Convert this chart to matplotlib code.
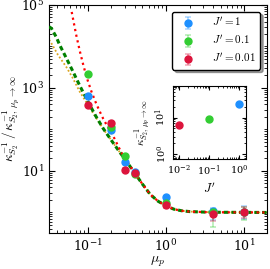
import matplotlib
matplotlib.use("Agg")
import matplotlib.pyplot as plt
import matplotlib.ticker as mticker
import numpy as np

plt.rcParams["mathtext.fontset"] = "cm"
plt.rcParams["font.family"] = "DejaVu Serif"

# simulation points
mu = [0.1, 0.2, 0.3, 0.4, 1.0, 4.0, 10.0]
k_J1 = [650, 98, 16.6, 9.3, 2.3, 1.10, 1.0]
k_J01 = [2200, 115, 23, 8.6, 1.7, 1.0, 1.0]
k_J001 = [390, 144, 10.5, 8.8, 1.5, 0.92, 1.0]
err_J1 = [[30, 6, 1.2, 0.8, 0.25, 0.45, 0.30], [30, 6, 1.2, 0.8, 0.25, 0.18, 0.45]]
err_J01 = [[60, 6, 1.2, 0.8, 0.2, 0.55, 0.35], [60, 6, 1.2, 0.8, 0.2, 0.2, 0.35]]
err_J001 = [[20, 8, 1.0, 0.8, 0.2, 0.28, 0.28], [20, 14, 1.0, 0.8, 0.2, 0.2, 0.32]]

# theory curves
mu_green = [0.032, 0.0343, 0.0398, 0.0437, 0.0501, 0.0631, 0.0794, 0.1, 0.126, 0.158, 0.2,
            0.251, 0.316, 0.398, 0.501, 0.631, 0.794, 1.0, 1.26, 1.58, 2.0, 3.16, 5.0, 20.0]
k_green = [30000, 27500, 16600, 11000, 6600, 2750, 1120, 480, 214, 105, 55,
           30, 16.6, 8.9, 4.8, 2.7, 1.86, 1.45, 1.2, 1.1, 1.05, 1.02, 1.01, 1.0]
mu_orange = [0.032, 0.0335, 0.0416, 0.0533, 0.0648, 0.0716, 0.0794, 0.1, 0.126, 0.158, 0.2,
             0.251, 0.316, 0.398, 0.501, 0.631, 0.794, 1.0, 1.26, 1.58, 2.0, 3.16, 5.0, 20.0]
k_orange = [14500, 13000, 6300, 3200, 1700, 1170, 800, 400, 200, 102, 55,
            30, 16.6, 8.9, 4.8, 2.7, 1.86, 1.45, 1.2, 1.1, 1.05, 1.02, 1.01, 1.0]
mu_red = [0.0624, 0.0708, 0.0794, 0.0891, 0.1, 0.112, 0.126, 0.141, 0.158, 0.178, 0.2,
          0.224, 0.251, 0.282, 0.316, 0.398, 0.501, 0.631, 0.794, 1.0, 1.26, 1.58, 2.0, 3.16, 5.0, 20.0]
k_red = [68000, 20000, 7600, 3200, 1510, 800, 457, 282, 180, 120, 85,
         56, 36, 24, 17.4, 8.9, 4.8, 2.7, 1.86, 1.45, 1.2, 1.1, 1.05, 1.02, 1.01, 1.0]

# inset
Jp = [0.01, 0.1, 1.0]
k_inf = [6.2, 9.3, 23]

c_blue = "#1E90FF"
c_green = "#32CD32"
c_red = "#DC143C"

fig = plt.figure(figsize=(2.70, 2.69), dpi=100)
ax = fig.add_axes([49 / 270, 36 / 269, 218 / 270, 228 / 269])

ax.plot(mu_green, k_green, color="green", lw=2.2, dashes=(1.5, 1.0), zorder=3)
ax.plot(mu_orange, k_orange, color="goldenrod", lw=1.3, dashes=(1.0, 1.2), zorder=2)
ax.plot(mu_red, k_red, color="red", lw=1.6, dashes=(1.0, 1.6), zorder=4)

for k, e, c, lab in [(k_J1, err_J1, c_blue, r"$J'=1$"),
                     (k_J01, err_J01, c_green, r"$J'=0.1$"),
                     (k_J001, err_J001, c_red, r"$J'=0.01$")]:
    eb = ax.errorbar(mu, k, yerr=e, fmt="o", color=c, ms=5, ecolor=c, elinewidth=1.2,
                     capsize=2.5, capthick=1.2, label=lab, zorder=5)
    for art in eb[1] + eb[2]:
        art.set_alpha(0.35)

ax.set_xscale("log")
ax.set_yscale("log")
ax.set_xlim(0.032, 19.5)
ax.set_ylim(0.32, 1e5)
ax.yaxis.set_major_locator(mticker.FixedLocator([1e1, 1e3, 1e5]))
ax.yaxis.set_minor_locator(mticker.LogLocator(base=10, subs=np.arange(1, 10), numticks=20))
ax.yaxis.set_minor_formatter(mticker.NullFormatter())
ax.tick_params(which="both", direction="in", top=True, right=True, labelsize=9)
ax.tick_params(which="major", length=4)
ax.tick_params(which="minor", length=2)
ax.set_xlabel(r"$\mu_p$", fontsize=10, labelpad=0.5)
ax.set_ylabel(r"$\kappa^{-1}_{S_2}\,/\,\kappa^{-1}_{S_2,\,\mu_p\to\infty}$", fontsize=9.5, labelpad=0)

leg = ax.legend(loc="upper right", fontsize=8, frameon=True, shadow=True, fancybox=True,
                framealpha=1, edgecolor="black", borderaxespad=0.6, handletextpad=1.2,
                labelspacing=0.45, borderpad=0.4)

ins = fig.add_axes([173 / 270, 110 / 269, 73 / 270, 73 / 269])
ins.plot(Jp[0], k_inf[0], "o", color=c_red, ms=5)
ins.plot(Jp[1], k_inf[1], "o", color=c_green, ms=5)
ins.plot(Jp[2], k_inf[2], "o", color=c_blue, ms=5)
ins.set_xscale("log")
ins.set_yscale("log")
ins.set_xlim(0.0062, 1.7)
ins.set_ylim(0.73, 73)
ins.tick_params(which="both", direction="in", top=True, right=True, labelsize=7)
ins.tick_params(which="major", length=3)
ins.tick_params(which="minor", length=1.5)
ins.yaxis.set_major_locator(mticker.FixedLocator([1, 10]))
for t in ins.get_yticklabels():
    t.set_rotation(90)
    t.set_va("center")
ins.set_xlabel(r"$J'$", fontsize=9, labelpad=2)
ins.set_ylabel(r"$\kappa^{-1}_{S_2,\,\mu_p\to\infty}$", fontsize=8, labelpad=1)

fig.savefig("out.png", dpi=100)
